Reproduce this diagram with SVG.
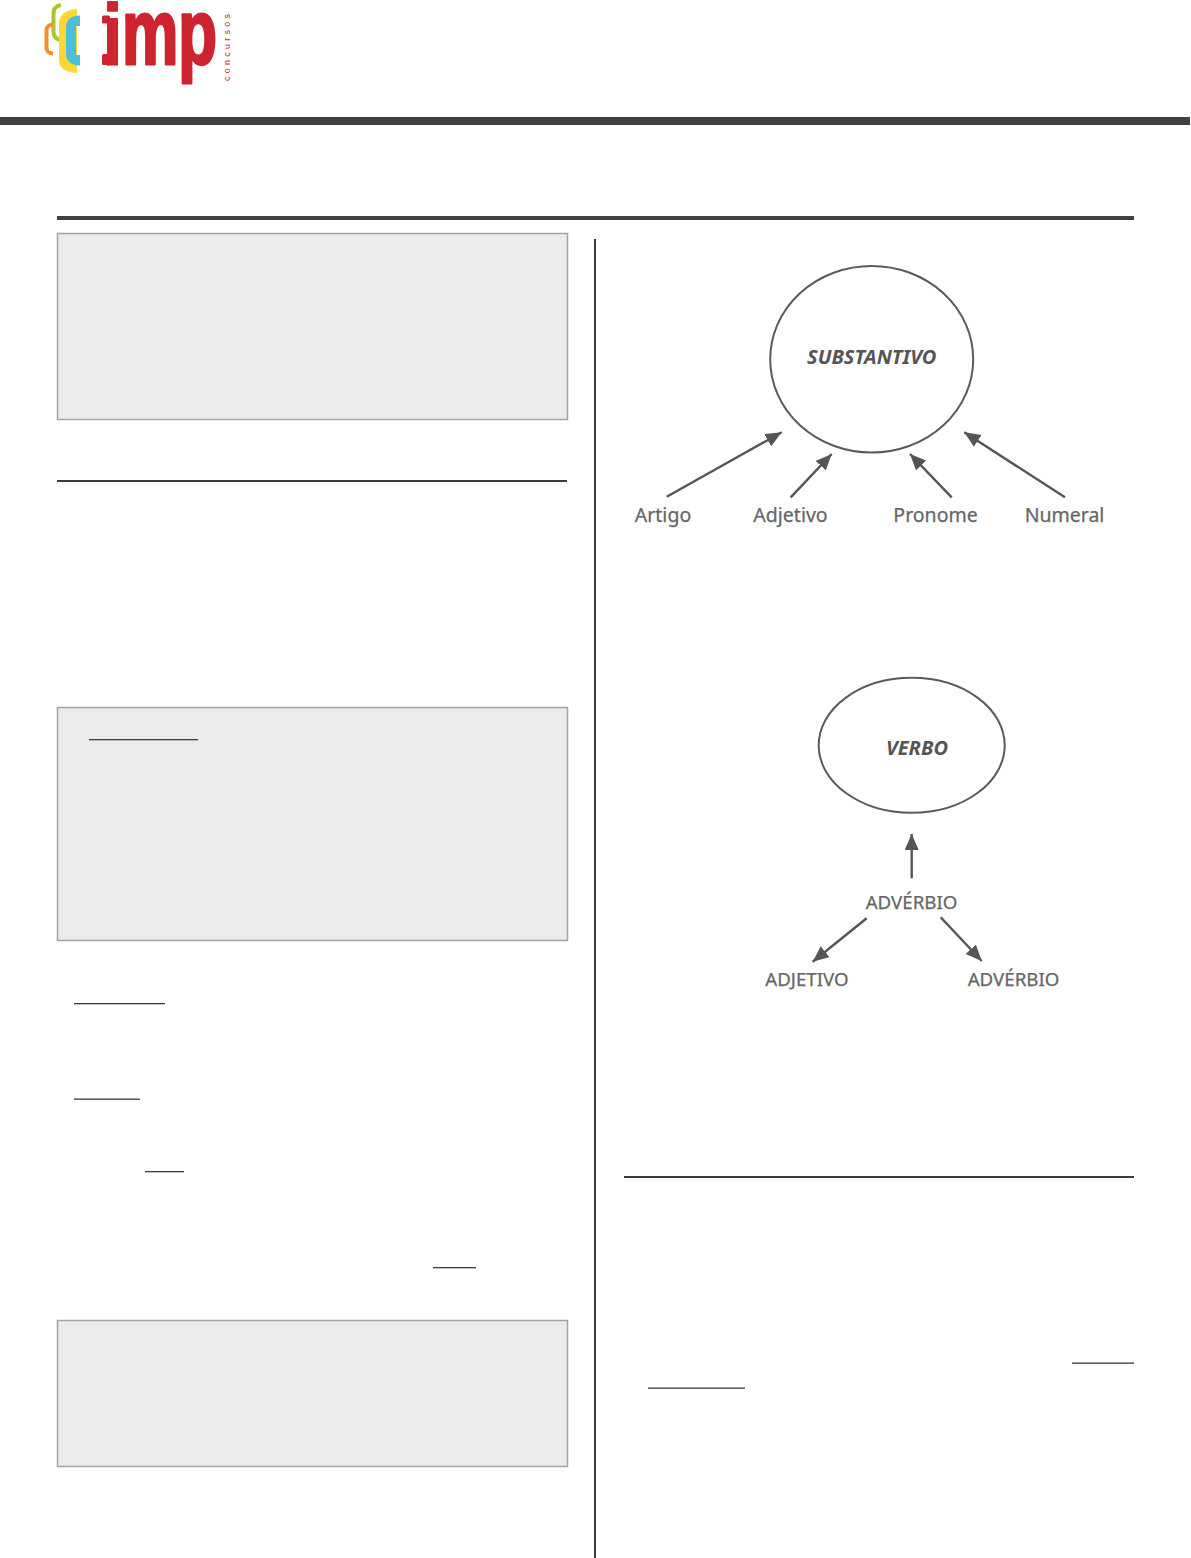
<svg xmlns="http://www.w3.org/2000/svg" width="1191" height="1558" viewBox="0 0 1191 1558">
<style>
.box{fill:#ebebeb;stroke:#a3a3a3;stroke-width:1.500}
.nd{fill:none;stroke:#5a5a5a;stroke-width:2}
.t{font-family:"Noto Sans","Open Sans",sans-serif;font-size:19.500px;fill:#666;stroke:#666;stroke-width:.25;text-anchor:middle}
.u{font-size:18.700px}
.b{font-family:"Noto Sans","Open Sans",sans-serif;font-size:20px;font-weight:700;font-style:italic;fill:#555;text-anchor:middle}
.c{stroke:#555;stroke-width:2.400;fill:none;marker-end:url(#a)}
.lg{font-family:"Liberation Sans",sans-serif;font-weight:700;fill:#cd2430;stroke:#cd2430;stroke-linejoin:round}
</style>
<defs>
<marker id="a" markerUnits="userSpaceOnUse" markerWidth="17" markerHeight="15" refX="16" refY="7" orient="auto"><path d="M0 0L16 7L0 14Z" fill="#555"/></marker>
<clipPath id="jc"><rect x="90" y="0" width="40" height="65.500"/></clipPath>
</defs>
<rect width="1191" height="1558" fill="#fff"/>
<g id="logo">
<path d="M61 5C55 6 53.500 9 53.500 14V32C53.500 37 56 39.500 62 40.500" fill="none" stroke="#a8c52f" stroke-width="4"/>
<path d="M53 24.500C48 25 46.500 27 46.500 31V47C46.500 51 48 53 53 53.500" fill="none" stroke="#f2902f" stroke-width="4"/>
<path d="M77 9C65 10 59 15 59 24V60C59 68 65 72 77 73Z" fill="#fdd835"/>
<path d="M80 15.500C70 16 66 20 66 28V53C66 61 70 65 80 65.500V55H76V26H80Z" fill="#4dbfdc"/>
<rect x="102" y="15.500" width="8" height="8" rx="1.500" fill="#cd2430"/>
<rect x="102" y="54" width="8" height="11" rx="1.500" fill="#cd2430"/>
<g clip-path="url(#jc)"><text class="lg" transform="translate(112.500 65) scale(.78 1)" font-size="88" stroke-width="2" text-anchor="middle">j</text></g>
<text class="lg" x="122" y="64" font-size="92" stroke-width="3" textLength="95" lengthAdjust="spacingAndGlyphs">mp</text>
<text transform="translate(230 81) rotate(-90)" font-family="Liberation Sans,sans-serif" font-size="9" fill="#cd2430" textLength="67">concursos</text>
</g>
<rect x="0" y="117" width="1190" height="8" fill="#43413e"/>
<rect x="57" y="216" width="1077" height="4" fill="#43413e"/>
<rect class="box" x="57.500" y="233.500" width="510" height="186"/>
<rect class="box" x="57.500" y="707.500" width="510" height="233"/>
<rect class="box" x="57.500" y="1320.500" width="510" height="146"/>
<g fill="#3c3c3c">
<rect x="57" y="480" width="510" height="2"/>
<rect x="624" y="1176" width="510" height="2"/>
<rect x="594" y="239" width="2" height="1319"/>
<rect x="89" y="739" width="109" height="1.300"/>
<rect x="74" y="1003" width="91" height="1.300"/>
<rect x="74" y="1098.500" width="66" height="1.300"/>
<rect x="145" y="1171" width="39" height="1.300"/>
<rect x="433" y="1267" width="43" height="1.300"/>
<rect x="1072" y="1362.500" width="62" height="1.300"/>
<rect x="648" y="1387.500" width="97" height="1.300"/>
</g>
<g id="substantivo"><ellipse class="nd" cx="871.700" cy="359.300" rx="101.500" ry="93.300"/><text class="b" x="871.700" y="364">SUBSTANTIVO</text></g>
<g id="artigo"><text class="t" x="663" y="521.700">Artigo</text></g>
<g id="adjetivo"><text class="t" x="790.500" y="521.700">Adjetivo</text></g>
<g id="pronome"><text class="t" x="935.500" y="521.700">Pronome</text></g>
<g id="numeral"><text class="t" x="1064.500" y="521.700">Numeral</text></g>
<g id="verbo"><ellipse class="nd" cx="911.700" cy="745.300" rx="93" ry="67.500"/><text class="b" x="917" y="755">VERBO</text></g>
<g id="adverbio"><text class="t u" x="911.500" y="908.500">ADVÉRBIO</text></g>
<g id="adjetivo2"><text class="t u" x="807" y="985.500">ADJETIVO</text></g>
<g id="adverbio2"><text class="t u" x="1013.500" y="985.500">ADVÉRBIO</text></g>
<g id="connectors">
<path class="c" d="M666.700 496.700L781.700 432.300"/>
<path class="c" d="M790.700 497.300L831.700 454"/>
<path class="c" d="M951.700 497.300L910 454"/>
<path class="c" d="M1065 497.300L964.300 432.300"/>
<path class="c" d="M911.700 878.300V834"/>
<path class="c" d="M866.700 918.300L812.700 961.700"/>
<path class="c" d="M940.700 917.300L981.700 961"/>
</g>
</svg>
